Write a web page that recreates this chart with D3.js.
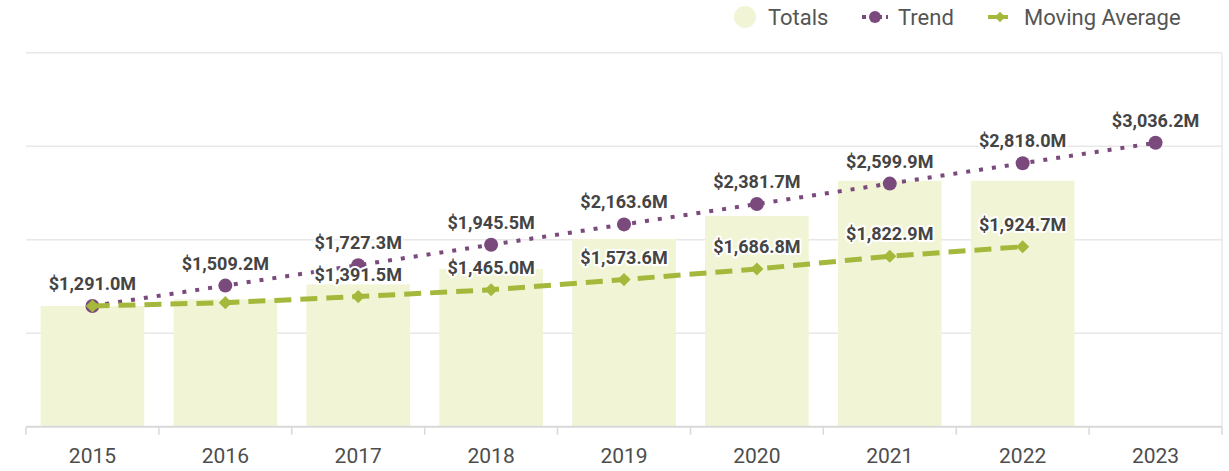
<!DOCTYPE html>
<html>

<head>
    <meta charset="utf-8" />
    <title>Totals, Trend and Moving Average</title>
    <style>
        body {
            margin: 0;
            background: #fff;
        }

        svg text {
            font-family: Roboto, "Noto Sans", sans-serif;
        }

        .grid line {
            stroke: #e8e8e8;
            stroke-width: 1.5;
        }

        .val-label {
            font-size: 18px;
            font-weight: 700;
            fill: #444;
            stroke: #fff;
            stroke-width: 4px;
            stroke-linejoin: round;
            paint-order: stroke;
        }
    </style>
</head>

<body>
    <div id="chart"></div>
    <script src="https://cdn.jsdelivr.net/npm/d3@7"></script>
    <script>
        // data
        var years = ["2015", "2016", "2017", "2018", "2019", "2020", "2021", "2022", "2023"];
        var totals = [1291.0, 1362.0, 1521.5, 1685.5, 2008.0, 2252.8, 2630.0, 2630.0, null];
        var trend = [1291.0, 1509.2, 1727.3, 1945.5, 2163.6, 2381.7, 2599.9, 2818.0, 3036.2];
        var movingAvg = [1291.0, 1326.5, 1391.5, 1465.0, 1573.6, 1686.8, 1822.9, 1924.7, null];
        // which labels are drawn (others hidden by the chart because they overlap)
        var trendLabelShown = [true, true, true, true, true, true, true, true, true];
        var avgLabelShown = [false, false, true, true, true, true, true, true, false];
        var yTicks = [0, 1000, 2000, 3000, 4000];

        var w = 1229;
        var h = 471;
        var plotLeft = 26, plotRight = 1222, plotTop = 52.7, plotBottom = 426.7;

        var barColor = "#f1f5d5";
        var trendColor = "#7b4a7d";
        var avgColor = "#a4b83c";

        var fmt = function(v) {
            return "$" + d3.format(",.1f")(v) + "M";
        };

        var svg = d3.select("#chart").append("svg")
            .attr("width", w)
            .attr("height", h);

        var xScale = d3.scaleBand()
            .domain(years)
            .range([plotLeft, plotRight])
            .paddingInner(0.22)
            .paddingOuter(0.11);

        var yScale = d3.scaleLinear()
            .domain([0, 4000])
            .range([plotBottom, plotTop]);

        // gridlines
        svg.append("g")
            .attr("class", "grid")
            .selectAll("line")
            .data(yTicks.slice(1))
            .enter()
            .append("line")
            .attr("x1", plotLeft)
            .attr("x2", plotRight)
            .attr("y1", function(d) { return yScale(d); })
            .attr("y2", function(d) { return yScale(d); });

        // right border of plot
        svg.append("line")
            .attr("x1", plotRight).attr("x2", plotRight)
            .attr("y1", yScale(4000)).attr("y2", plotBottom)
            .attr("stroke", "#e8e8e8")
            .attr("stroke-width", 1.5);

        // bars
        svg.append("g")
            .selectAll("rect")
            .data(years.filter(function(d, i) { return totals[i] != null; }))
            .enter()
            .append("rect")
            .attr("x", function(d) { return xScale(d); })
            .attr("width", xScale.bandwidth())
            .attr("y", function(d, i) { return yScale(totals[i]); })
            .attr("height", function(d, i) { return plotBottom - yScale(totals[i]); })
            .attr("fill", barColor);

        // x axis
        var step = xScale.step();
        var ax = svg.append("g");
        ax.append("line")
            .attr("x1", plotLeft).attr("x2", plotRight)
            .attr("y1", plotBottom).attr("y2", plotBottom)
            .attr("stroke", "#d9d9d9")
            .attr("stroke-width", 2);
        ax.selectAll(".tick")
            .data(d3.range(years.length + 1))
            .enter()
            .append("line")
            .attr("x1", function(i) { return plotLeft + i * step; })
            .attr("x2", function(i) { return plotLeft + i * step; })
            .attr("y1", plotBottom)
            .attr("y2", plotBottom + 8)
            .attr("stroke", "#d9d9d9")
            .attr("stroke-width", 1.5);
        ax.selectAll("text")
            .data(years)
            .enter()
            .append("text")
            .attr("x", function(d) { return xScale(d) + xScale.bandwidth() / 2; })
            .attr("y", 463)
            .attr("text-anchor", "middle")
            .attr("font-size", "21px")
            .attr("fill", "#4d4d4d")
            .text(function(d) { return d; });

        var cx = function(i) { return xScale(years[i]) + xScale.bandwidth() / 2; };

        // trend line
        var trendLine = d3.line()
            .x(function(d, i) { return cx(i); })
            .y(function(d) { return yScale(d); });

        svg.append("path")
            .datum(trend)
            .attr("d", trendLine)
            .attr("fill", "none")
            .attr("stroke", trendColor)
            .attr("stroke-width", 4)
            .attr("stroke-dasharray", "4,9");

        svg.append("g")
            .selectAll("circle")
            .data(trend)
            .enter()
            .append("circle")
            .attr("cx", function(d, i) { return cx(i); })
            .attr("cy", function(d) { return yScale(d); })
            .attr("r", 7)
            .attr("fill", trendColor);

        // moving average line
        var avgPts = movingAvg.map(function(d, i) { return [i, d]; })
            .filter(function(p) { return p[1] != null; });

        var avgLine = d3.line()
            .x(function(p) { return cx(p[0]); })
            .y(function(p) { return yScale(p[1]); });

        svg.append("path")
            .datum(avgPts)
            .attr("d", avgLine)
            .attr("fill", "none")
            .attr("stroke", avgColor)
            .attr("stroke-width", 5)
            .attr("stroke-dasharray", "17,9");

        var diamond = d3.symbol().type(d3.symbolDiamond2).size(110);
        svg.append("g")
            .selectAll("path")
            .data(avgPts)
            .enter()
            .append("path")
            .attr("d", diamond)
            .attr("transform", function(p) { return "translate(" + cx(p[0]) + "," + yScale(p[1]) + ")"; })
            .attr("fill", avgColor);

        // value labels
        var labels = svg.append("g");
        trend.forEach(function(v, i) {
            if (!trendLabelShown[i]) return;
            labels.append("text")
                .attr("class", "val-label")
                .attr("x", cx(i))
                .attr("y", yScale(v) - 16)
                .attr("text-anchor", "middle")
                .text(fmt(v));
        });
        movingAvg.forEach(function(v, i) {
            if (v == null || !avgLabelShown[i]) return;
            labels.append("text")
                .attr("class", "val-label")
                .attr("x", cx(i))
                .attr("y", yScale(v) - 16)
                .attr("text-anchor", "middle")
                .text(fmt(v));
        });

        // legend
        var lg = svg.append("g").attr("font-size", "22px").attr("fill", "#555");
        lg.append("circle")
            .attr("cx", 745).attr("cy", 17).attr("r", 11)
            .attr("fill", barColor);
        lg.append("text").attr("x", 768).attr("y", 25).text("Totals");

        lg.append("line")
            .attr("x1", 862).attr("x2", 888)
            .attr("y1", 17).attr("y2", 17)
            .attr("stroke", trendColor)
            .attr("stroke-width", 4)
            .attr("stroke-dasharray", "4,4");
        lg.append("circle")
            .attr("cx", 875).attr("cy", 17).attr("r", 6)
            .attr("fill", trendColor);
        lg.append("text").attr("x", 898).attr("y", 25).text("Trend");

        lg.append("line")
            .attr("x1", 988).attr("x2", 1008)
            .attr("y1", 17).attr("y2", 17)
            .attr("stroke", avgColor)
            .attr("stroke-width", 4);
        lg.append("path")
            .attr("d", d3.symbol().type(d3.symbolDiamond2).size(70))
            .attr("transform", "translate(1000,17)")
            .attr("fill", avgColor);
        lg.append("text").attr("x", 1024).attr("y", 25).text("Moving Average");
    </script>
</body>

</html>
